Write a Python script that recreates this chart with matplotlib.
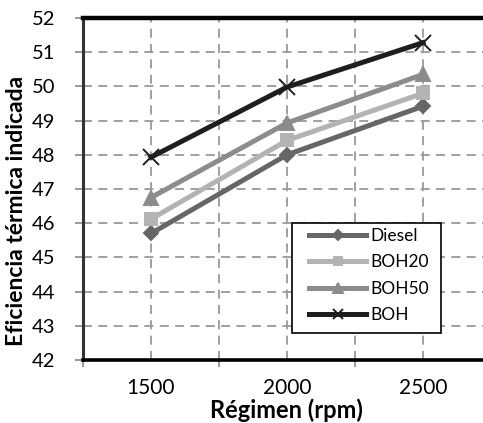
import matplotlib.pyplot as plt
import matplotlib.patches as mpatches
import numpy as np

# data
rpm = [1500, 2000, 2500]
diesel = [45.7, 48.0, 49.42]
boh20 = [46.12, 48.42, 49.8]
boh50 = [46.75, 48.93, 50.35]
boh = [47.93, 49.98, 51.28]

plt.rcParams['font.family'] = ['Lato', 'DejaVu Sans']

W, H = 483, 423
fig = plt.figure(figsize=(W/100, H/100), dpi=100)
# axes runs past the right edge of the picture, as in the original
ax = fig.add_axes([83/W, 1-360/H, 408/W, 342/H])
axw, axh = 408, 342

series = [
    (diesel, 'Diesel', '#666666', 'D', 7),
    (boh20, 'BOH20', '#b3b3b3', 's', 9),
    (boh50, 'BOH50', '#8c8c8c', '^', 10),
    (boh, 'BOH', '#1e1e1e', 'x', 11),
]
for vals, name, col, mk, ms in series:
    ax.plot(rpm, vals, color=col, lw=3.6, marker=mk, ms=ms, mew=1.4,
            mec=col, label=name, zorder=3)

ax.set_xlim(1250, 2750)
ax.set_ylim(42, 52)
ax.set_yticks(np.arange(42, 53, 1))

# tick marks between categories, labels on the categories
ax.set_xticks([1250, 1750, 2250, 2750])
ax.set_xticklabels([])
ax.set_xticks(rpm, minor=True)
ax.set_xticklabels([str(r) for r in rpm], minor=True)
ax.tick_params(axis='x', which='minor', length=0, labelsize=15, pad=13)
ax.tick_params(axis='x', which='major', length=5, color='#888888', width=1.2)
ax.tick_params(axis='y', length=6, color='#888888', width=1.2, labelsize=14.5, pad=14)

ax.yaxis.grid(True, ls=(0, (5, 3.5)), color='#999999', lw=1.3)
for xv in np.arange(1500, 2751, 250):
    ax.axvline(xv, ls=(0, (5, 3.5)), color='#999999', lw=1.3, zorder=1)

ax.spines['top'].set_linewidth(3.2)
ax.spines['bottom'].set_linewidth(2.6)
ax.spines['left'].set_linewidth(2.2)
ax.spines['left'].set_color('#333333')
ax.spines['right'].set_visible(False)

ax.set_ylabel('Eficiencia térmica indicada', fontsize=16.5, fontweight='bold')
ax.yaxis.set_label_coords((27-83)/axw, (360-211)/axh)
ax.set_xlabel('Régimen (rpm)', fontsize=17, fontweight='bold')
ax.xaxis.set_label_coords((286-83)/axw, -(410-360)/axh)
ax.xaxis.label.set_va('center')

# legend box
ax.add_patch(mpatches.Rectangle(((292-83)/axw, (360-333)/axh), 149/axw, 110/axh,
                                transform=ax.transAxes, facecolor='white',
                                edgecolor='black', lw=1.2, zorder=5))
leg = ax.legend(loc='upper left', bbox_to_anchor=((309-83)/axw, 1-(228-18)/axh),
                frameon=False, fontsize=12.5, handlelength=3.3, handletextpad=0.25,
                borderpad=0, labelspacing=0.6, borderaxespad=0, markerscale=0.7)
leg.set_zorder(6)

fig.savefig('out.png', dpi=100)
